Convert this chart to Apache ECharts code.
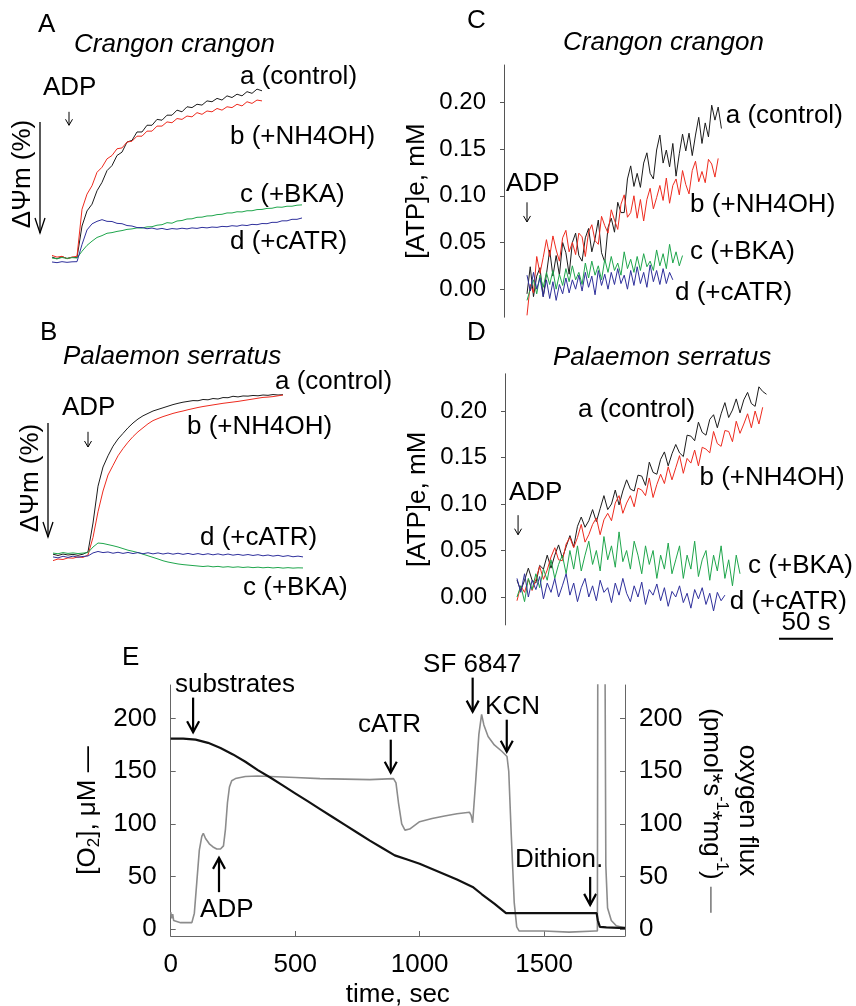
<!DOCTYPE html>
<html>
<head>
<meta charset="utf-8">
<script src="https://cdn.jsdelivr.net/npm/echarts@6/dist/echarts.min.js"></script>
<style>
html, body { margin: 0; background: #fff; }
#chart { width: 856px; height: 1006px; }
</style>
</head>
<body>
<div id="chart"></div>
<script>
// ---- data ----
// A: membrane potential, Crangon crangon (5 s per sample, % of final control response)
var aStep = 5;
var aControl = [0.5,-0.5,0.8,-0.3,0.4,0.2,19,28,32,40,45,52,55,61,63,69,70,75,75,79,79,82.5,82,85,85,88,87,90,89.5,91.5,91,93.5,93,95,94,96.5,95.5,97.5,96.5,99,98,100.5,99.5];
var aNH4OH = [1.5,0.5,1,-0.5,0.5,1,29,38,43,51,54,59,61,65,65.5,69,69.5,72.5,72.5,75.5,75.5,78.5,78.5,81,80.5,83,82.5,84.5,84,86.5,85.5,87.5,87,89,88,90,89.5,91.5,90.5,93,92,94,93.5];
var aBKA = [0,-0.5,0.3,-0.3,0.2,0,4,7.5,10,12.2,13.3,14.7,15.1,15.8,16.3,17,17.3,17.9,17.8,18.5,18.6,19.5,19.8,21,20.7,22,22.3,23.2,23.3,24.2,24.3,25,25.1,25.8,26,26.8,26.8,27.5,27.4,28.1,28.1,28.8,28.9,29.5,29.6,30.3,30.2,30.8,30.8,31.4,31.6];
var aCATR = [-2.4,-2.8,-2.2,-2.6,-2.3,-2.2,8,16.7,20.3,21.8,22.8,21.8,21.7,20.6,20.4,19.3,19,18.1,18.1,17.4,17.8,17.1,17.6,16.9,17.5,17.2,17.7,17.3,17.9,17.6,18.2,17.9,18.4,18.2,18.8,18.6,19.2,18.9,19.6,19.3,20,19.8,20.5,20.4,21.2,21.2,22.1,22.1,23,23,23.8];

// B: membrane potential, Palaemon serratus
var bStep = 5;
var bControl = [0.5,-0.3,0.6,0,0.4,-0.2,0.5,2,20,43,55,62,68,72.5,76,79.5,82.5,85,87,88.5,90,91,92,93,94,94.8,95.5,96,96.5,96.4,97.2,97,97.8,97.5,98.4,98.3,99.2,98.8,99.4,99.3,99.7,99.5,100,99.8,100.3,100,100.2];
var bNH4OH = [-3.5,-2.5,-2.8,-1.8,-2,-1.2,-1.5,0,11,27,40,50,56,62,66.5,70.5,74,77,79.5,82,84,85.3,86.5,87.5,88.5,89.3,90,90.8,91.5,92.2,92.8,93.3,93.8,94.3,94.8,95.2,95.6,96,96.5,97,97.5,98,98.5,98.7,99,99.5,100];
var bBKA = [1.2,0.8,1.5,1,1.3,0.9,1.2,1.5,5,7.5,7.2,6.5,5.8,5,4,3,2.3,1.5,0.5,-0.5,-1.5,-2.5,-3.6,-4.4,-5,-5.6,-6,-6.3,-6.6,-6.9,-7.2,-6.9,-7.4,-7.1,-7.6,-7.3,-7.7,-7.4,-7.8,-7.5,-7.9,-7.6,-8,-7.7,-8.1,-7.8,-8.2,-7.9,-8.2,-8,-8.1];
var bCATR = [-1.2,-1.8,-0.8,-1.5,-0.7,-1.4,-0.9,-0.6,1.3,2.2,1.5,1.9,1.1,1.7,1.0,1.6,0.9,1.5,0.8,1.4,0.7,1.3,0.6,1.2,0.5,1.1,0.4,1.0,0.3,0.9,0.2,0.8,0.1,0.7,0,0.6,-0.1,0.4,-0.2,0.3,-0.3,0.2,-0.5,0,-0.7,-0.2,-0.9,-0.4,-1.1,-0.7,-1.2];

// C: external ATP (mM), Crangon crangon (3 s per sample)
var cStep = 3;
var cControl = [-0.005,0.024,-0.008,0.014,0.023,-0.008,0.016,0.042,0.014,0.036,0.015,0.05,0.039,0.016,0.05,0.06,0.036,0.03,0.055,0.065,0.04,0.054,0.074,0.039,0.029,0.066,0.076,0.061,0.093,0.082,0.082,0.118,0.132,0.11,0.124,0.109,0.135,0.146,0.124,0.118,0.149,0.165,0.135,0.149,0.131,0.156,0.121,0.145,0.166,0.148,0.167,0.143,0.165,0.184,0.156,0.178,0.163,0.197,0.181,0.195,0.172];
var cNH4OH = [-0.028,0.005,-0.004,0.035,0.017,0.034,0.053,0.035,0.057,0.042,0.03,0.055,0.063,0.04,0.05,0.037,0.06,0.056,0.035,0.061,0.069,0.052,0.048,0.078,0.068,0.06,0.085,0.074,0.064,0.091,0.101,0.077,0.082,0.1,0.076,0.096,0.073,0.096,0.108,0.086,0.098,0.111,0.095,0.119,0.092,0.111,0.118,0.101,0.127,0.112,0.102,0.127,0.137,0.115,0.126,0.114,0.139,0.134,0.12,0.14];
var cBKA = [-0.012,0,0.01,-0.005,0.015,0.002,0.018,0.005,0.02,0,0.016,0.004,0.022,0.008,0.025,0.01,0.018,0.005,0.028,0.012,0.03,0.015,0.025,0.01,0.032,0.018,0.035,0.02,0.028,0.015,0.04,0.022,0.032,0.018,0.035,0.02,0.038,0.024,0.03,0.02,0.042,0.025,0.038,0.022,0.048,0.028,0.04,0.025,0.036];
var cCATR = [0.015,-0.002,0.018,0,0.012,-0.008,0.01,-0.01,0.008,-0.012,0.005,-0.005,0.012,-0.004,0.01,0,0.015,-0.002,0.018,0.002,0.014,-0.006,0.02,0.004,0.016,0,0.018,0.005,0.022,0.006,0.015,0,0.02,0.004,0.024,0.006,0.018,0.002,0.026,0.008,0.02,0.005,0.022,0.006,0.018,0.01];

// D: external ATP (mM), Palaemon serratus (3.5 s per sample)
var dStep = 3.5;
var dControl = [0.018,0.007,0.018,0.031,0.018,0.015,0.034,0.03,0.045,0.031,0.045,0.056,0.042,0.054,0.066,0.054,0.076,0.086,0.075,0.082,0.094,0.081,0.095,0.109,0.094,0.1,0.115,0.099,0.114,0.126,0.116,0.114,0.131,0.13,0.12,0.145,0.134,0.132,0.148,0.156,0.141,0.154,0.164,0.155,0.151,0.174,0.173,0.168,0.188,0.177,0.174,0.191,0.196,0.182,0.197,0.209,0.193,0.201,0.213,0.198,0.212,0.22,0.208,0.205,0.226,0.221,0.218];
var dNH4OH = [-0.004,0.012,0.005,0.019,0.007,0.019,0.033,0.019,0.029,0.043,0.053,0.04,0.039,0.057,0.064,0.053,0.064,0.078,0.059,0.067,0.078,0.085,0.067,0.083,0.09,0.082,0.101,0.109,0.09,0.101,0.109,0.097,0.117,0.115,0.109,0.128,0.107,0.121,0.132,0.122,0.14,0.126,0.139,0.152,0.133,0.149,0.144,0.158,0.141,0.161,0.159,0.155,0.178,0.165,0.162,0.179,0.178,0.167,0.189,0.176,0.186,0.197,0.182,0.2,0.186,0.204];
var dBKA = [0,0.012,-0.005,0.02,0.008,0.025,0.01,0.03,0.018,0.04,0.02,0.035,0.045,0.025,0.05,0.03,0.055,0.028,0.045,0.06,0.035,0.05,0.028,0.065,0.04,0.055,0.032,0.07,0.038,0.05,0.03,0.06,0.045,0.025,0.055,0.035,0.05,0.02,0.045,0.03,0.058,0.025,0.04,0.055,0.02,0.045,0.03,0.06,0.022,0.04,0.05,0.018,0.045,0.028,0.055,0.02,0.04,0.012,0.045,0.025];
var dCATR = [0.02,0.005,0.025,0,0.018,0.008,0.022,-0.002,0.015,0.005,0.02,0,0.012,0.025,0.002,0.015,-0.005,0.01,0.02,0,0.012,-0.004,0.018,0.005,0.01,-0.006,0.015,0.002,0.02,0.004,-0.005,0.012,0,0.016,-0.008,0.008,0.002,0.014,-0.004,0.01,-0.01,0.006,0,0.012,-0.006,0.004,-0.012,0.008,-0.002,0.01,-0.008,0.004,-0.015,0.005,-0.004,0.002];

// E: oxygraph run, time in s
var eTime = [0,50,100,150,200,250,300,350,400,450,500,550,600,650,700,750,800,850,900,950,1000,1050,1100,1150,1213,1250,1300,1347,1400,1500,1600,1700,1711,1716,1724,1750,1800,1825];
var eO2 = [181,181,180,177,172,166,159,151,144,136.5,129,121.5,114,106.5,99,91.5,84,77,70,66,62,57,52,47,40,33,24,15,15,15,15,15,15,8,2,1.5,1,1];
var fluxTime = [0,4,8,12,20,40,60,85,95,105,115,125,131,140,155,170,185,200,212,220,228,236,245,260,300,350,400,500,600,700,800,895,905,915,928,941,960,1000,1050,1100,1150,1200,1207,1213,1225,1238,1249,1258,1275,1300,1330,1351,1358,1368,1380,1390,1400,1500,1600,1705,1714,1716,1744,1748,1755,1770,1790,1825];
var flux = [16,10,14,8,7,6,6,6,15,45,75,88,91,86,81,78,76,76,79,95,120,135,141,143,145,145.5,145,144,143,142.5,142,143,139,120,100,94,95,102,105,107.5,109.5,111,108,101,140,185,204,194,183,175,169,164,150,90,25,2,-2,-2,-3,-2,-2,300,300,60,20,8,3,1];

var atpTicks = [0, 0.05, 0.1, 0.15, 0.2];
var o2Ticks = [0, 50, 100, 150, 200];

// ---- styling ----
var FONT = '"Liberation Sans", Arial, sans-serif';
var COL = { a: '#1c1c1c', b: '#ee2b1f', c: '#1fa64c', d: '#2f309c' };

function pts(vals, step) {
	return vals.map(function (v, i) { return [i * step, v]; });
}
function zip(xs, ys) {
	return xs.map(function (x, i) { return [x, ys[i]]; });
}
function trace(axis, data, color, width, yAxis) {
	return {
		type: 'line',
		xAxisIndex: axis,
		yAxisIndex: yAxis == null ? axis : yAxis,
		data: data,
		symbol: 'none',
		showSymbol: false,
		silent: true,
		lineStyle: { color: color, width: width || 1 },
		itemStyle: { color: color }
	};
}

var atpAxis = function (grid) {
	return {
		gridIndex: grid, type: 'value', min: -0.03, max: 0.24,
		axisLine: { show: true, onZero: false, lineStyle: { color: '#555', width: 1 } },
		axisTick: { show: true, inside: false, length: 4, customValues: atpTicks, lineStyle: { color: '#555' } },
		axisLabel: {
			customValues: atpTicks, margin: 18, color: '#000', fontSize: 24, fontFamily: FONT,
			formatter: function (v) { return v.toFixed(2); }
		},
		splitLine: { show: false },
		name: '[ATP]e, mM', nameLocation: 'middle', nameGap: 74,
		nameTextStyle: { fontSize: 26, fontFamily: FONT, color: '#000' }
	};
};
var o2Axis = function (pos) {
	return {
		gridIndex: 4, type: 'value', min: -6.7, max: 232, position: pos,
		axisLine: { show: true, onZero: false, lineStyle: { color: '#666', width: 1 } },
		axisTick: { show: true, inside: true, length: 5, customValues: o2Ticks, lineStyle: { color: '#666' } },
		axisLabel: { customValues: o2Ticks, margin: 14, color: '#000', fontSize: 26, fontFamily: FONT },
		splitLine: { show: false }
	};
};

var yLeft = o2Axis('left');
yLeft.name = '[O{sub|2}], μM —';
yLeft.nameLocation = 'middle';
yLeft.nameGap = 64;
yLeft.nameTextStyle = {
	fontSize: 26, fontFamily: FONT, color: '#000', lineHeight: 30,
	rich: { sub: { fontSize: 17, fontFamily: FONT, color: '#000', verticalAlign: 'bottom', lineHeight: 16 } }
};
var yRight = o2Axis('right');
yRight.name = 'oxygen flux\n(pmol*s{sup|-1}*mg{sup|-1}) {g|—}';
yRight.nameLocation = 'middle';
yRight.nameRotate = -90;
yRight.nameGap = 60;
yRight.nameTextStyle = {
	fontSize: 26, fontFamily: FONT, color: '#000', lineHeight: 36,
	rich: {
		sup: { fontSize: 16, fontFamily: FONT, color: '#000', verticalAlign: 'top', lineHeight: 22 },
		g: { fontSize: 26, fontFamily: FONT, color: '#888', lineHeight: 36 }
	}
};

var option = {
	animation: false,
	backgroundColor: '#fff',
	grid: [
		{ left: 52, top: 79.9, width: 260, height: 191.5, outerBoundsMode: 'none' },
		{ left: 53, top: 375.8, width: 260, height: 204.8, outerBoundsMode: 'none' },
		{ left: 504, top: 65, width: 240, height: 252.2, outerBoundsMode: 'none' },
		{ left: 505, top: 373.8, width: 340, height: 251.1, outerBoundsMode: 'none' },
		{ left: 170.7, top: 685, width: 454.3, height: 251, outerBoundsMode: 'none' }
	],
	xAxis: [
		{ gridIndex: 0, type: 'value', min: 0, max: 260, show: false },
		{ gridIndex: 1, type: 'value', min: 0, max: 260, show: false },
		{ gridIndex: 2, type: 'value', min: -21.3, max: 200.9, show: false },
		{ gridIndex: 3, type: 'value', min: -11.1, max: 303.7, show: false },
		{
			gridIndex: 4, type: 'value', min: 0, max: 1825, interval: 500,
			axisLine: { onZero: false, lineStyle: { color: '#666', width: 1 } },
			axisTick: { inside: true, length: 5, lineStyle: { color: '#666' } },
			axisLabel: {
				margin: 16, color: '#000', fontSize: 26, fontFamily: FONT, showMaxLabel: false,
				formatter: function (v) { return String(v); }
			},
			splitLine: { show: false },
			name: 'time, sec', nameLocation: 'middle', nameGap: 46,
			nameTextStyle: { fontSize: 26, fontFamily: FONT, color: '#000' }
		}
	],
	yAxis: [
		{ gridIndex: 0, type: 'value', min: -8, max: 106, show: false },
		{ gridIndex: 1, type: 'value', min: -16, max: 112, show: false },
		atpAxis(2),
		atpAxis(3),
		yLeft,
		yRight
	],
	series: [
		trace(0, pts(aControl, aStep), COL.a),
		trace(0, pts(aNH4OH, aStep), COL.b),
		trace(0, pts(aBKA, aStep), COL.c),
		trace(0, pts(aCATR, aStep), COL.d),
		trace(1, pts(bControl, bStep), COL.a),
		trace(1, pts(bNH4OH, bStep), COL.b),
		trace(1, pts(bBKA, bStep), COL.c),
		trace(1, pts(bCATR, bStep), COL.d),
		trace(2, pts(cControl, cStep), COL.a),
		trace(2, pts(cNH4OH, cStep), COL.b),
		trace(2, pts(cBKA, cStep), COL.c),
		trace(2, pts(cCATR, cStep), COL.d),
		trace(3, pts(dControl, dStep), COL.a),
		trace(3, pts(dNH4OH, dStep), COL.b),
		trace(3, pts(dBKA, dStep), COL.c),
		trace(3, pts(dCATR, dStep), COL.d),
		trace(4, zip(fluxTime, flux), '#8c8c8c', 1.6, 5),
		trace(4, zip(eTime, eO2), '#111', 2.2, 4)
	]
};

var chart = echarts.init(document.getElementById('chart'));
chart.setOption(option);

// ---- annotations, anchored to each panel's own scales ----
function at(g, x, y) {
	return chart.convertToPixel({ xAxisIndex: g, yAxisIndex: g }, [x, y]);
}
function text(p, s, o) {
	o = o || {};
	return {
		type: 'text', x: p[0], y: p[1], rotation: o.rot || 0, silent: true,
		style: {
			text: s,
			font: (o.italic ? 'italic ' : '') + (o.size || 26) + 'px ' + FONT,
			fill: o.color || '#000',
			align: o.align || 'left', verticalAlign: 'middle',
			textAlign: o.align || 'left', textVerticalAlign: 'middle'
		}
	};
}
function arrow(p1, p2, w, hw, hl) {
	var dir = p2[1] > p1[1] ? 1 : -1;
	return [
		{ type: 'line', silent: true, shape: { x1: p1[0], y1: p1[1], x2: p2[0], y2: p2[1] }, style: { stroke: '#000', lineWidth: w } },
		{ type: 'polyline', silent: true, shape: { points: [[p2[0] - hw, p2[1] - dir * hl], [p2[0], p2[1]], [p2[0] + hw, p2[1] - dir * hl]] }, style: { stroke: '#000', lineWidth: w, fill: null } }
	];
}

var els = [];
[
	['A', 38, 25, false], ['Crangon crangon', 74, 45, true],
	['B', 40, 333, false], ['Palaemon serratus', 63, 357, true],
	['C', 467, 21, false], ['Crangon crangon', 563, 43, true],
	['D', 467, 333, false], ['Palaemon serratus', 553, 358, true],
	['E', 122, 658, false]
].forEach(function (h) {
	els.push(text([h[1], h[2]], h[0], { italic: h[3] }));
});

// trace labels: [panel, text, x, y] in data units
[
	[0, 'a (control)', 188, 107.7], [0, 'b (+NH4OH)', 178, 72], [0, 'c (+BKA)', 188, 37.5], [0, 'd (+cATR)', 178, 9.5], [0, 'ADP', -9, 101],
	[1, 'a (control)', 222, 108], [1, 'b (+NH4OH)', 134, 80], [1, 'd (+cATR)', 147, 11], [1, 'c (+BKA)', 190, -20.6], [1, 'ADP', 9, 92],
	[2, 'a (control)', 184, 0.186], [2, 'b (+NH4OH)', 151, 0.09], [2, 'c (+BKA)', 151, 0.04], [2, 'd (+cATR)', 137, -0.004], [2, 'ADP', -19.4, 0.113],
	[3, 'a (control)', 56.5, 0.201], [3, 'b (+NH4OH)', 169, 0.128], [3, 'c (+BKA)', 214, 0.034], [3, 'd (+cATR)', 197, -0.005], [3, 'ADP', -7.4, 0.112],
	[4, 'substrates', 17, 232], [4, 'cATR', 752, 194], [4, 'ADP', 118, 18], [4, 'SF 6847', 1014, 251], [4, 'KCN', 1263, 211], [4, 'Dithion.', 1383, 65.7]
].forEach(function (n) {
	els.push(text(at(n[0], n[2], n[3]), n[1]));
});

// thin ADP arrows in A-D: [panel, x, yFrom, yTo]
[[0, 17, 87, 79], [1, 35, 77, 67.5], [2, 0, 0.093, 0.072], [3, 1, 0.088, 0.067]].forEach(function (a) {
	els = els.concat(arrow(at(a[0], a[1], a[2]), at(a[0], a[1], a[3]), 1, 3.5, 6));
});
// bold arrows in E
[[90, 220, 187], [884, 180, 148.6], [194, 35, 67.6], [1213, 239, 206.7], [1350, 199, 168.6], [1685, 49.5, 22.9]].forEach(function (a) {
	els = els.concat(arrow(at(4, a[0], a[1]), at(4, a[0], a[2]), 2.2, 6, 11));
});

// delta-psi labels with their down arrows
els.push(text([23, 174], 'ΔΨm (%)', { rot: Math.PI / 2, align: 'center' }));
els = els.concat(arrow([40, 122], [40, 233], 1.3, 5, 15));
els.push(text([31, 478], 'ΔΨm (%)', { rot: Math.PI / 2, align: 'center' }));
els = els.concat(arrow([48, 423], [48, 537], 1.3, 5, 15));

// 50 s scale bar in D
var s0 = at(3, 242.6, -0.045), s1 = at(3, 292.6, -0.045);
els.push({ type: 'line', silent: true, shape: { x1: s0[0], y1: s0[1], x2: s1[0], y2: s1[1] }, style: { stroke: '#000', lineWidth: 2 } });
els.push(text(at(3, 267.6, -0.028), '50 s', { align: 'center' }));

chart.setOption({ graphic: { elements: els } });
</script>
</body>
</html>
